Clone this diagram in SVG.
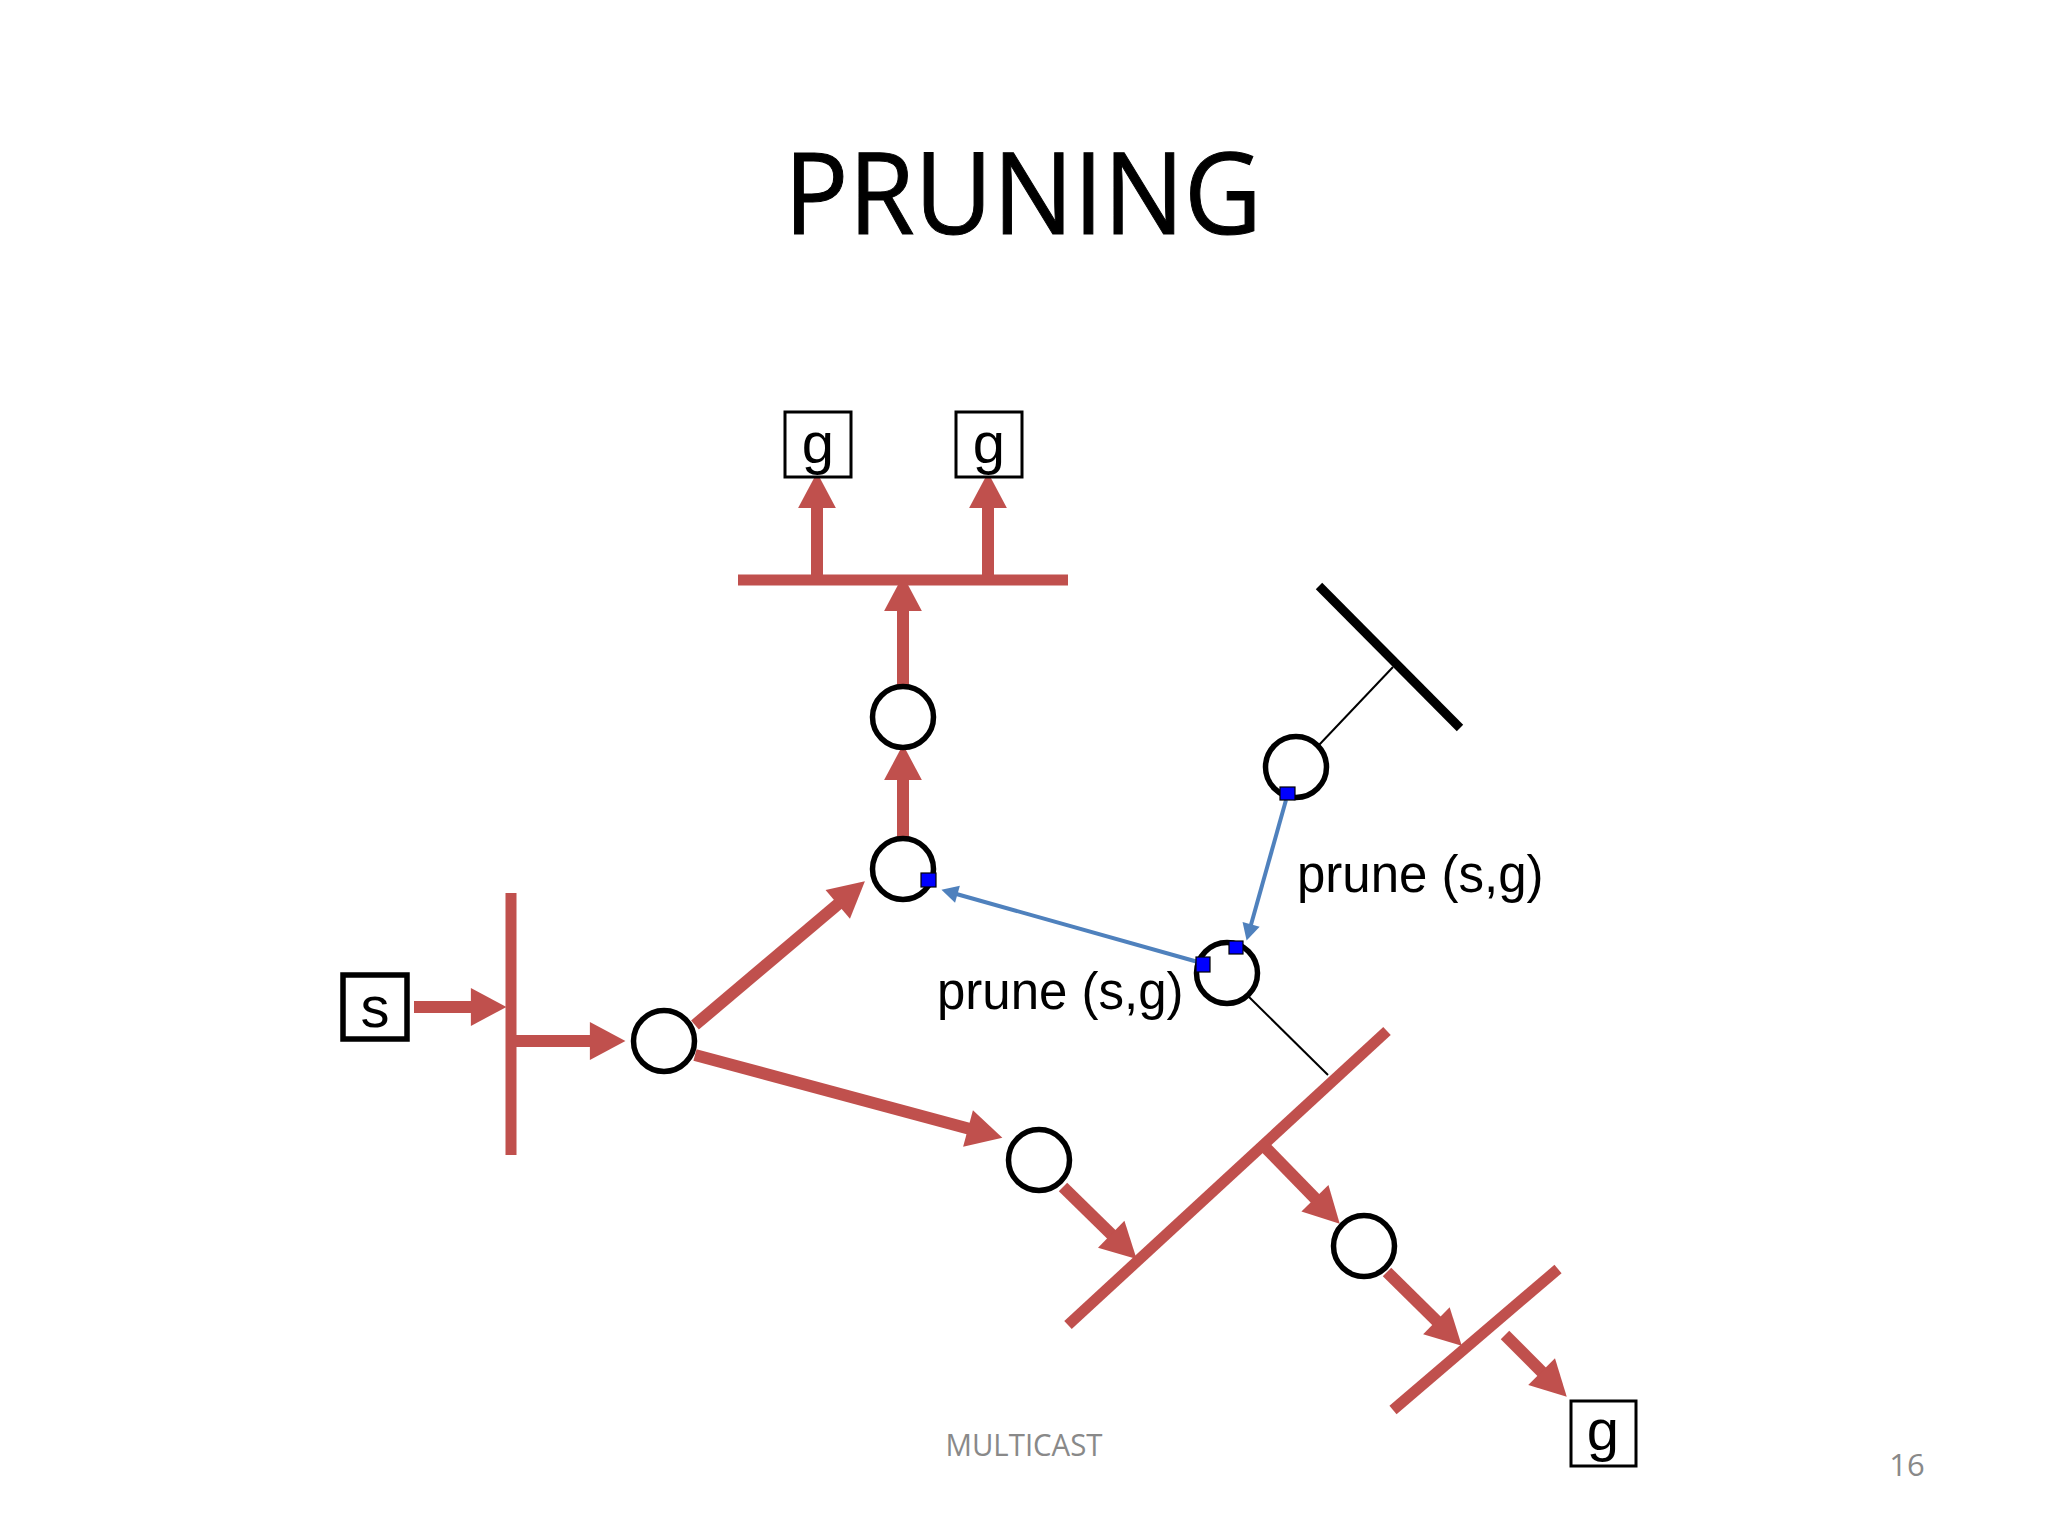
<svg xmlns="http://www.w3.org/2000/svg" width="2048" height="1536" viewBox="0 0 2048 1536">
<defs>
<style>
.red{stroke:#C0504D;stroke-width:12;fill:none;stroke-linecap:butt}
.bus{stroke:#C0504D;stroke-width:11;fill:none}
.arr{stroke:#C0504D;stroke-width:12;fill:none;marker-end:url(#rh)}
.blue{stroke:#4F81BD;stroke-width:4;fill:none;marker-end:url(#bh)}
.thin{stroke:#000;stroke-width:2;fill:none}
.router{fill:#fff;stroke:#000;stroke-width:5.5}
.sq{fill:#0000FF;stroke:#000;stroke-width:1.2}
.box{fill:#fff;stroke:#000;stroke-width:3}
.lbl{font-family:"Liberation Sans",Arial,sans-serif;fill:#000}
.foot{font-family:"Open Sans","Noto Sans",sans-serif;fill:#898989}
</style>
<marker id="rh" markerUnits="userSpaceOnUse" markerWidth="40" markerHeight="40" viewBox="0 -18 34 36" refX="1" refY="0" orient="auto">
<path d="M0,-17 L32,0 L0,17 z" fill="#C0504D"/>
</marker>
<marker id="bh" markerUnits="userSpaceOnUse" markerWidth="20" markerHeight="20" viewBox="0 -9 16 18" refX="1" refY="0" orient="auto">
<path d="M0,-8 L15,0 L0,8 z" fill="#4F81BD"/>
</marker>
</defs>
<rect width="2048" height="1536" fill="#fff"/>

<text x="1023" y="234" class="lbl" style="font-family:'Open Sans','Noto Sans',sans-serif" font-size="114" text-anchor="middle" textLength="478" lengthAdjust="spacingAndGlyphs" stroke="#000" stroke-width="1">PRUNING</text>

<g id="connectors">
<!-- buses -->
<line class="bus" x1="511" y1="893" x2="511" y2="1155"/>
<line class="bus" x1="738" y1="580" x2="1068" y2="580"/>
<line class="bus" x1="1068" y1="1325" x2="1387" y2="1031"/>
<line class="bus" x1="1393" y1="1410" x2="1558" y2="1269"/>
<line stroke="#000" stroke-width="9" x1="1319" y1="586" x2="1460" y2="728"/>
<!-- red arrows -->
<line class="arr" x1="414" y1="1007" x2="472" y2="1007"/>
<line class="arr" x1="511" y1="1041" x2="591" y2="1041"/>
<line class="arr" x1="695" y1="1025" x2="838.6" y2="903.6"/>
<line class="arr" x1="695" y1="1055" x2="969.1" y2="1128.7"/>
<line class="arr" x1="903" y1="837" x2="903" y2="779"/>
<line class="arr" x1="903" y1="686" x2="903" y2="610"/>
<line class="arr" x1="817" y1="580" x2="817" y2="507"/>
<line class="arr" x1="988" y1="580" x2="988" y2="507"/>
<line class="arr" x1="1063" y1="1187" x2="1112" y2="1235"/>
<line class="arr" x1="1265" y1="1147" x2="1315.7" y2="1199"/>
<line class="arr" x1="1387" y1="1272" x2="1437.2" y2="1321.5"/>
<line class="arr" x1="1505" y1="1335" x2="1542.4" y2="1372.4"/>
<!-- thin links -->
<line class="thin" x1="1393" y1="667" x2="1319" y2="745"/>
<line class="thin" x1="1248" y1="996" x2="1328" y2="1075"/>
<!-- prune messages -->
<line class="blue" x1="1286" y1="800" x2="1250.8" y2="925.5"/>
<line class="blue" x1="1198" y1="962" x2="956.4" y2="894"/>
</g>

<g id="src-s">
<rect x="343" y="975" width="64" height="64" fill="#fff" stroke="#000" stroke-width="5.5"/>
<text x="375" y="1027" class="lbl" font-size="58" text-anchor="middle">s</text>
</g>
<g id="grp-g1">
<rect class="box" x="785" y="412" width="66" height="65"/>
<text x="818" y="463" class="lbl" font-size="58" text-anchor="middle">g</text>
</g>
<g id="grp-g2">
<rect class="box" x="956" y="412" width="66" height="65"/>
<text x="989" y="463" class="lbl" font-size="58" text-anchor="middle">g</text>
</g>
<g id="grp-g3">
<rect class="box" x="1571" y="1401" width="65" height="65"/>
<text x="1603" y="1450" class="lbl" font-size="58" text-anchor="middle">g</text>
</g>

<g id="r1"><circle class="router" cx="903" cy="717" r="30.5"/></g>
<g id="r2"><circle class="router" cx="903" cy="869" r="30.5"/><rect class="sq" x="921" y="873" width="15" height="14"/></g>
<g id="r3"><circle class="router" cx="1296" cy="767" r="30.5"/><rect class="sq" x="1280" y="787" width="15" height="13"/></g>
<g id="r4"><circle class="router" cx="1227" cy="973" r="30.5"/><rect class="sq" x="1196" y="957" width="14" height="15"/><rect class="sq" x="1229" y="941" width="14" height="13"/></g>
<g id="r5"><circle class="router" cx="664" cy="1041" r="30.5"/></g>
<g id="r6"><circle class="router" cx="1039" cy="1160" r="30.5"/></g>
<g id="r7"><circle class="router" cx="1364" cy="1246" r="30.5"/></g>

<g id="labels">
<text x="1297" y="892" class="lbl" font-size="51">prune (s,g)</text>
<text x="937" y="1009" class="lbl" font-size="51">prune (s,g)</text>
</g>

<g id="footer">
<text x="1024" y="1456" class="foot" font-size="31" text-anchor="middle" textLength="157" lengthAdjust="spacingAndGlyphs">MULTICAST</text>
<text x="1907" y="1476" class="foot" font-size="31" text-anchor="middle">16</text>
</g>
</svg>
